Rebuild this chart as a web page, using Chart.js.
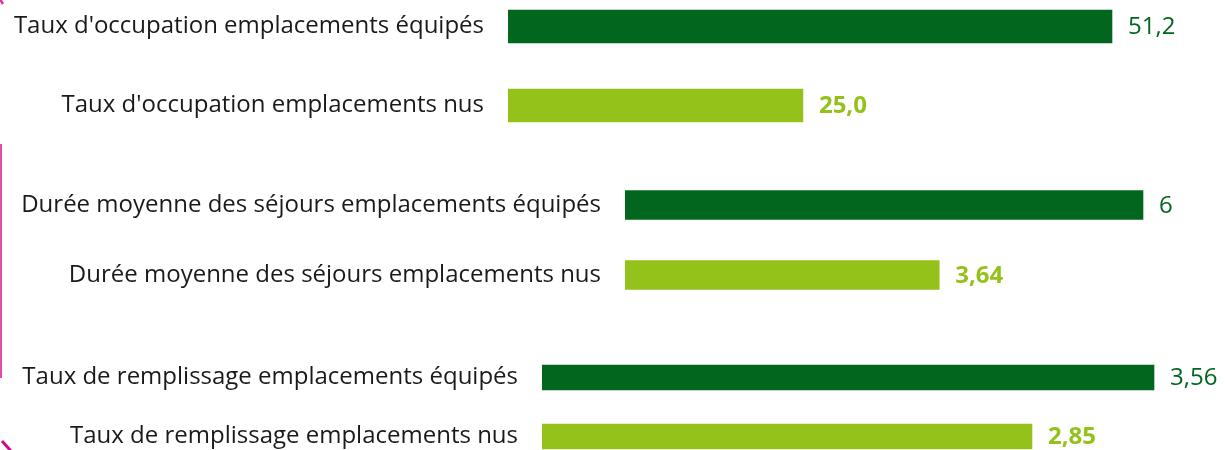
<!DOCTYPE html>
<html>
<head>
<meta charset="utf-8">
<script src="https://cdn.jsdelivr.net/npm/chart.js@4/dist/chart.umd.min.js"></script>
<style>
  html, body { margin: 0; padding: 0; background: #ffffff; }
  body { width: 1225px; height: 450px; position: relative; overflow: hidden; }
  canvas.c { position: absolute; left: 0; }
  #deco { position: absolute; left: 0; top: 0; }
</style>
</head>
<body>
<svg id="deco" width="1225" height="450">
  <line x1="0.5" y1="0" x2="3" y2="4" stroke="#E0309A" stroke-width="2.5"/>
  <rect x="0" y="144" width="2" height="234" fill="#E24AAE"/>
  <line x1="2" y1="441" x2="11" y2="451" stroke="#D2088A" stroke-width="3"/>
</svg>
<canvas class="c" id="c1" width="1225" height="158" style="top:-13px"></canvas>
<canvas class="c" id="c2" width="1225" height="140" style="top:170px"></canvas>
<canvas class="c" id="c3" width="1225" height="118" style="top:347.5px"></canvas>
<script>
// ---- Data ----
const categories1 = ["Taux d'occupation emplacements équipés", "Taux d'occupation emplacements nus"];
const values1 = [51.2, 25.0];
const decimals1 = [1, 1];

const categories2 = ["Durée moyenne des séjours emplacements équipés", "Durée moyenne des séjours emplacements nus"];
const values2 = [6, 3.64];
const decimals2 = [0, 2];

const categories3 = ["Taux de remplissage emplacements équipés", "Taux de remplissage emplacements nus"];
const values3 = [3.56, 2.85];
const decimals3 = [2, 2];

// ---- Styles ----
const DARK = '#02661F';
const LIGHT = '#95C11B';
const FONT = "'Open Sans', 'Noto Sans', sans-serif";

const valueLabels = {
  id: 'valueLabels',
  afterDatasetsDraw(chart, args, opts) {
    const ctx = chart.ctx;
    const meta = chart.getDatasetMeta(0);
    const ds = chart.data.datasets[0];
    ctx.save();
    ctx.textBaseline = 'middle';
    ctx.textAlign = 'left';
    meta.data.forEach((bar, i) => {
      const v = ds.data[i];
      const txt = v.toFixed(opts.decimals[i]).replace('.', ',');
      const bold = i === 1;
      ctx.font = (bold ? 'bold ' : '') + '24px ' + FONT;
      ctx.fillStyle = ds.backgroundColor[i];
      ctx.fillText(txt, bar.x + 16, bar.y + 1);
    });
    ctx.restore();
  }
};

function makeChart(id, cats, vals, decs, left, xMax, thickness) {
  return new Chart(document.getElementById(id), {
    type: 'bar',
    data: {
      labels: cats,
      datasets: [{
        data: vals,
        backgroundColor: [DARK, LIGHT],
        borderWidth: 0,
        barThickness: thickness
      }]
    },
    options: {
      indexAxis: 'y',
      responsive: false,
      animation: false,
      devicePixelRatio: 1,
      layout: { padding: 0 },
      plugins: {
        legend: { display: false },
        tooltip: { enabled: false },
        valueLabels: { decimals: decs }
      },
      scales: {
        x: { display: false, min: 0, max: xMax },
        y: {
          grid: { display: false, drawTicks: false },
          border: { display: false },
          ticks: {
            padding: 24,
            color: '#1a1a1a',
            font: { family: FONT, size: 24 }
          },
          afterFit(scale) {
            scale.width = left;
            scale.paddingTop = 0;
            scale.paddingBottom = 0;
          }
        }
      }
    },
    plugins: [valueLabels]
  });
}

makeChart('c1', categories1, values1, decimals1, 508, 60.78, 33);
makeChart('c2', categories2, values2, decimals2, 625, 6.95, 29);
makeChart('c3', categories3, values3, decimals3, 542, 3.973, 25);
</script>
</body>
</html>
